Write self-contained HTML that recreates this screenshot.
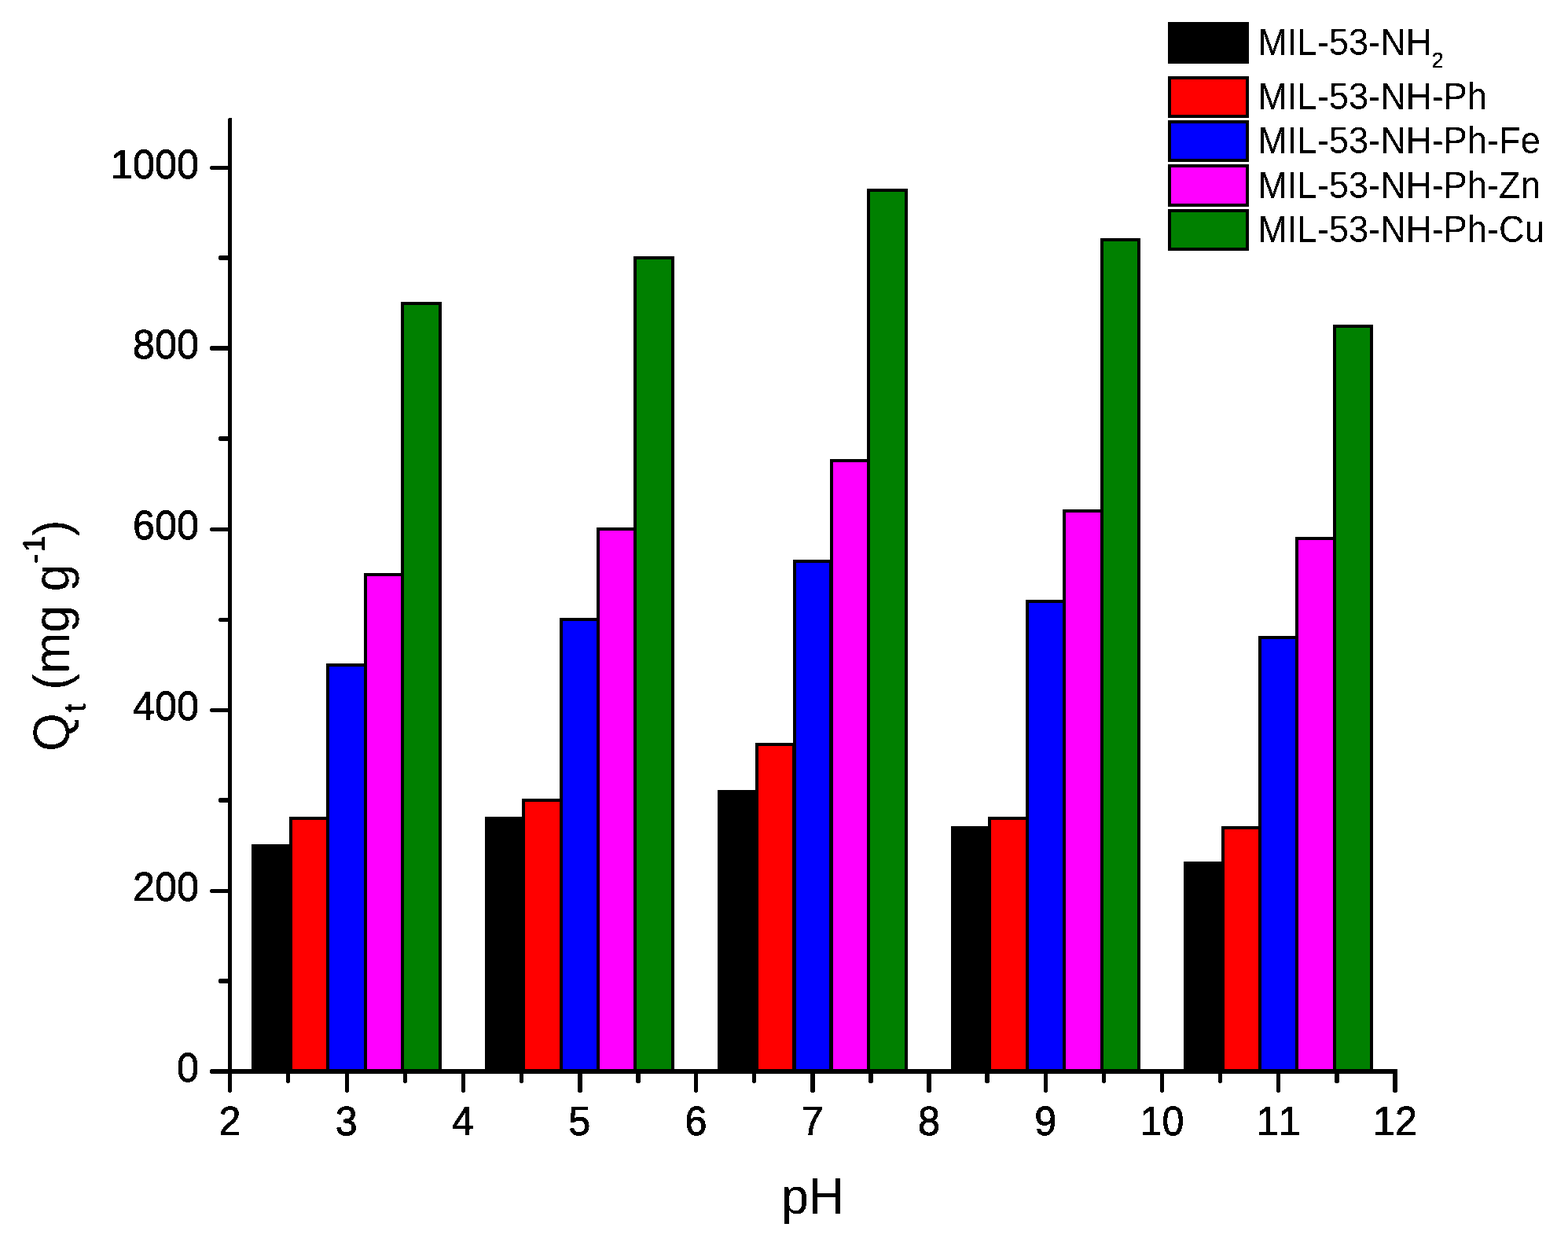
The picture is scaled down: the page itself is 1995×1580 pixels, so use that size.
<!DOCTYPE html>
<html lang="en"><head><meta charset="utf-8"><title>Qt vs pH</title>
<style>
html,body{margin:0;padding:0;background:#fff;}
body{width:1995px;height:1580px;overflow:hidden;}
svg{display:block;}
text{font-family:"Liberation Sans",sans-serif;fill:#000;font-kerning:none;}
.tk{font-size:50.35px;stroke:#000;stroke-width:.8px;}
.tt{font-size:62.7px;}
.ss{font-size:38px;stroke:#000;stroke-width:.7px;}
.lg{font-size:45.26px;}
.ls{font-size:27.2px;stroke:#000;stroke-width:.3px;}
</style></head><body>
<svg width="1995" height="1580" viewBox="0 0 1995 1580">
<defs><filter id="bi" x="-5%" y="-20%" width="110%" height="140%" color-interpolation-filters="sRGB"><feComponentTransfer><feFuncA type="discrete" tableValues="0 1"/></feComponentTransfer></filter></defs>
<rect x="0" y="0" width="1995" height="1580" fill="#fff"/>
<g id="bars" shape-rendering="crispEdges" fill="#000">
<rect x="320" y="1074" width="52" height="289"/>
<rect x="368" y="1039" width="51" height="324"/>
<rect x="415" y="844" width="52" height="519"/>
<rect x="463" y="729" width="51" height="634"/>
<rect x="510" y="384" width="52" height="979"/>
<rect x="617" y="1039" width="51" height="324"/>
<rect x="664" y="1016" width="52" height="347"/>
<rect x="712" y="786" width="51" height="577"/>
<rect x="759" y="671" width="51" height="692"/>
<rect x="806" y="326" width="52" height="1037"/>
<rect x="913" y="1005" width="52" height="358"/>
<rect x="961" y="945" width="51" height="418"/>
<rect x="1009" y="712" width="50" height="651"/>
<rect x="1056" y="584" width="51" height="779"/>
<rect x="1103" y="240" width="52" height="1123"/>
<rect x="1210" y="1051" width="51" height="312"/>
<rect x="1257" y="1039" width="52" height="324"/>
<rect x="1305" y="763" width="51" height="600"/>
<rect x="1352" y="648" width="52" height="715"/>
<rect x="1400" y="303" width="51" height="1060"/>
<rect x="1506" y="1096" width="52" height="267"/>
<rect x="1554" y="1051" width="51" height="312"/>
<rect x="1601" y="809" width="51" height="554"/>
<rect x="1648" y="683" width="52" height="680"/>
<rect x="1696" y="413" width="51" height="950"/>
<rect x="372" y="1043" width="43" height="317" fill="#ff0000"/>
<rect x="419" y="848" width="44" height="512" fill="#0000ff"/>
<rect x="467" y="733" width="43" height="627" fill="#ff00ff"/>
<rect x="514" y="388" width="44" height="972" fill="#008000"/>
<rect x="668" y="1020" width="44" height="340" fill="#ff0000"/>
<rect x="716" y="790" width="43" height="570" fill="#0000ff"/>
<rect x="763" y="675" width="43" height="685" fill="#ff00ff"/>
<rect x="810" y="330" width="44" height="1030" fill="#008000"/>
<rect x="965" y="949" width="43" height="411" fill="#ff0000"/>
<rect x="1013" y="716" width="42" height="644" fill="#0000ff"/>
<rect x="1060" y="588" width="43" height="772" fill="#ff00ff"/>
<rect x="1107" y="244" width="44" height="1116" fill="#008000"/>
<rect x="1261" y="1043" width="44" height="317" fill="#ff0000"/>
<rect x="1309" y="767" width="43" height="593" fill="#0000ff"/>
<rect x="1356" y="652" width="44" height="708" fill="#ff00ff"/>
<rect x="1404" y="307" width="43" height="1053" fill="#008000"/>
<rect x="1558" y="1055" width="43" height="305" fill="#ff0000"/>
<rect x="1605" y="813" width="43" height="547" fill="#0000ff"/>
<rect x="1652" y="687" width="44" height="673" fill="#ff00ff"/>
<rect x="1700" y="417" width="43" height="943" fill="#008000"/>
</g>
<g id="axes" shape-rendering="crispEdges" fill="#000">
<rect x="290" y="151" width="5" height="1238"/>
<rect x="291" y="150" width="4" height="1"/>
<rect x="291" y="1389" width="3" height="1"/>
<rect x="268" y="1360" width="1510" height="6"/>
<rect x="267" y="1361" width="1" height="4"/>
<rect x="268" y="211" width="22" height="5"/>
<rect x="267" y="212" width="1" height="3"/>
<rect x="279" y="325" width="11" height="6"/>
<rect x="278" y="326" width="1" height="4"/>
<rect x="268" y="440" width="22" height="6"/>
<rect x="267" y="441" width="1" height="4"/>
<rect x="279" y="555" width="11" height="6"/>
<rect x="278" y="556" width="1" height="4"/>
<rect x="268" y="671" width="22" height="5"/>
<rect x="267" y="672" width="1" height="3"/>
<rect x="279" y="786" width="11" height="5"/>
<rect x="278" y="787" width="1" height="3"/>
<rect x="268" y="901" width="22" height="5"/>
<rect x="267" y="902" width="1" height="3"/>
<rect x="279" y="1015" width="11" height="6"/>
<rect x="278" y="1016" width="1" height="4"/>
<rect x="268" y="1131" width="22" height="5"/>
<rect x="267" y="1132" width="1" height="3"/>
<rect x="279" y="1245" width="11" height="6"/>
<rect x="278" y="1246" width="1" height="4"/>
<rect x="364" y="1366" width="5" height="11"/>
<rect x="365" y="1377" width="3" height="1"/>
<rect x="439" y="1366" width="5" height="23"/>
<rect x="440" y="1389" width="3" height="1"/>
<rect x="513" y="1366" width="5" height="11"/>
<rect x="514" y="1377" width="3" height="1"/>
<rect x="587" y="1366" width="5" height="23"/>
<rect x="588" y="1389" width="3" height="1"/>
<rect x="661" y="1366" width="5" height="11"/>
<rect x="662" y="1377" width="3" height="1"/>
<rect x="735" y="1366" width="6" height="23"/>
<rect x="736" y="1389" width="4" height="1"/>
<rect x="809" y="1366" width="6" height="11"/>
<rect x="810" y="1377" width="4" height="1"/>
<rect x="883" y="1366" width="5" height="23"/>
<rect x="884" y="1389" width="3" height="1"/>
<rect x="957" y="1366" width="5" height="11"/>
<rect x="958" y="1377" width="3" height="1"/>
<rect x="1031" y="1366" width="6" height="23"/>
<rect x="1032" y="1389" width="4" height="1"/>
<rect x="1105" y="1366" width="6" height="11"/>
<rect x="1106" y="1377" width="4" height="1"/>
<rect x="1179" y="1366" width="6" height="23"/>
<rect x="1180" y="1389" width="4" height="1"/>
<rect x="1253" y="1366" width="6" height="11"/>
<rect x="1254" y="1377" width="4" height="1"/>
<rect x="1328" y="1366" width="5" height="23"/>
<rect x="1329" y="1389" width="3" height="1"/>
<rect x="1402" y="1366" width="5" height="11"/>
<rect x="1403" y="1377" width="3" height="1"/>
<rect x="1476" y="1366" width="5" height="23"/>
<rect x="1477" y="1389" width="3" height="1"/>
<rect x="1550" y="1366" width="5" height="11"/>
<rect x="1551" y="1377" width="3" height="1"/>
<rect x="1624" y="1366" width="5" height="23"/>
<rect x="1625" y="1389" width="3" height="1"/>
<rect x="1698" y="1366" width="6" height="11"/>
<rect x="1699" y="1377" width="4" height="1"/>
<rect x="1772" y="1366" width="6" height="23"/>
<rect x="1773" y="1389" width="4" height="1"/>
</g>
<g id="ylabels" filter="url(#bi)">
<text class="tk" transform="translate(253,227.4) scale(1,1.02)" text-anchor="end">1000</text>
<text class="tk" transform="translate(253,456.4) scale(1,1.02)" text-anchor="end">800</text>
<text class="tk" transform="translate(253,686.4) scale(1,1.02)" text-anchor="end">600</text>
<text class="tk" transform="translate(253,916.4) scale(1,1.02)" text-anchor="end">400</text>
<text class="tk" transform="translate(253,1146.4) scale(1,1.02)" text-anchor="end">200</text>
<text class="tk" transform="translate(253,1376.4) scale(1,1.02)" text-anchor="end">0</text>
</g>
<g id="xlabels" filter="url(#bi)">
<text class="tk" transform="translate(292.5,1444) scale(1,1.035)" text-anchor="middle">2</text>
<text class="tk" transform="translate(440.75,1444) scale(1,1.035)" text-anchor="middle">3</text>
<text class="tk" transform="translate(589,1444) scale(1,1.035)" text-anchor="middle">4</text>
<text class="tk" transform="translate(737.25,1444) scale(1,1.035)" text-anchor="middle">5</text>
<text class="tk" transform="translate(885.5,1444) scale(1,1.035)" text-anchor="middle">6</text>
<text class="tk" transform="translate(1033.75,1444) scale(1,1.035)" text-anchor="middle">7</text>
<text class="tk" transform="translate(1182,1444) scale(1,1.035)" text-anchor="middle">8</text>
<text class="tk" transform="translate(1330.25,1444) scale(1,1.035)" text-anchor="middle">9</text>
<text class="tk" transform="translate(1478.5,1444) scale(1,1.035)" text-anchor="middle">10</text>
<text class="tk" transform="translate(1626.75,1444) scale(1,1.035)" text-anchor="middle">11</text>
<text class="tk" transform="translate(1775,1444) scale(1,1.035)" text-anchor="middle">12</text>
</g>
<g id="titles" filter="url(#bi)">
<text class="tt" transform="translate(993.9,1544) scale(1,1.04)">pH</text>
<text class="tt" transform="translate(87.2,955.9) rotate(-90) scale(1,1.04)">Q<tspan class="ss" dy="20.673" dx="1.2">t</tspan><tspan dy="-20.673" dx="0.1"> (mg g</tspan><tspan class="ss" dy="-29.135" dx="0.6 1.7">-1</tspan><tspan dy="29.135" dx="-0.6">)</tspan></text>
</g>
<g id="legend" filter="url(#bi)">
<g shape-rendering="crispEdges">
<rect x="1486" y="28" width="103" height="53" fill="#000"/>
</g>
<text class="lg" transform="translate(1600.3,70) scale(1,1.048)">MIL-53-NH<tspan class="ls" dy="14.885">2</tspan></text>
<g shape-rendering="crispEdges">
<rect x="1486" y="97" width="103" height="53" fill="#000"/>
<rect x="1490" y="101" width="95" height="45" fill="#ff0000"/>
</g>
<text class="lg" transform="translate(1600.3,139) scale(1,1.048)">MIL-53-NH-Ph</text>
<g shape-rendering="crispEdges">
<rect x="1486" y="153" width="103" height="53" fill="#000"/>
<rect x="1490" y="157" width="95" height="45" fill="#0000ff"/>
</g>
<text class="lg" transform="translate(1600.3,195) scale(1,1.048)">MIL-53-NH-Ph-Fe</text>
<g shape-rendering="crispEdges">
<rect x="1486" y="209" width="103" height="54" fill="#000"/>
<rect x="1490" y="213" width="95" height="46" fill="#ff00ff"/>
</g>
<text class="lg" transform="translate(1600.3,252) scale(1,1.048)">MIL-53-NH-Ph-Zn</text>
<g shape-rendering="crispEdges">
<rect x="1486" y="266" width="103" height="53" fill="#000"/>
<rect x="1490" y="270" width="95" height="45" fill="#008000"/>
</g>
<text class="lg" transform="translate(1600.3,308) scale(1,1.048)">MIL-53-NH-Ph-Cu</text>
</g>
</svg>
</body></html>
